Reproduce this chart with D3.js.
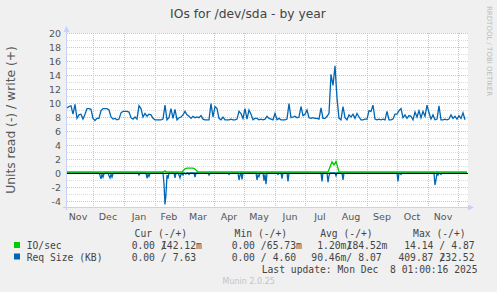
<!DOCTYPE html>
<html><head><meta charset="utf-8">
<script src="https://cdn.jsdelivr.net/npm/d3@7"></script>
<style>html,body{margin:0;padding:0;background:#f0f0f0}svg{display:block}</style>
</head><body>
<svg id="chart" width="497" height="292"></svg>
<script>
// ---------------- data ----------------
const chartTitle = "IOs for /dev/sda - by year";
const yAxisTitle = "Units read (-) / write (+)";
const watermark = "RRDTOOL / TOBI OETIKER";
const startDate = new Date(2024, 10, 5);
const endDate = new Date(2025, 11, 11);
const yTickValues = [-4, -2, 0, 2, 4, 6, 8, 10, 12, 14, 16, 18, 20];
const monthLabels = ["Nov","Dec","Jan","Feb","Mar","Apr","May","Jun","Jul","Aug","Sep","Oct","Nov"];
const monthLabelDates = ["2024-11-16","2024-12-16","2025-01-16","2025-02-15","2025-03-16","2025-04-16","2025-05-16","2025-06-16","2025-07-16","2025-08-16","2025-09-16","2025-10-16","2025-11-16"];

// Req Size (KB) write (+), one value every 2 days from startDate
const reqSizeWrite = [9.3,9.5,9.6,8.4,9.8,7.8,8.3,8.4,7.7,8.4,
 9.2,9.2,9.1,7.8,7.5,7.8,7.8,8.9,9.2,9.2,
 9.2,9.0,8.0,7.7,7.8,7.6,7.7,8.6,8.8,8.8,
 8.8,8.7,7.9,7.7,8.0,7.7,9.6,9.2,8.0,8.5,
 8.1,8.4,8.3,7.8,7.6,7.6,7.6,7.6,7.7,9.7,
 7.6,7.9,9.2,7.8,9.1,7.6,7.9,8.0,8.3,8.8,
 8.3,8.1,7.8,8.1,7.9,8.0,7.9,8.2,7.7,7.6,
 7.6,7.6,9.9,8.0,9.5,9.2,7.8,7.6,8.0,7.6,
 7.6,7.6,7.7,7.6,7.6,7.7,8.8,8.5,7.8,9.2,
 7.7,9.0,8.4,7.6,7.8,7.8,7.6,7.7,7.6,7.7,
 8.1,7.8,7.7,7.6,8.5,7.6,7.8,7.6,7.6,7.6,
 7.7,9.9,7.9,8.0,8.1,7.9,8.0,9.5,8.2,8.4,
 9.0,7.9,7.8,7.9,7.8,7.8,7.7,9.3,7.8,7.8,
 8.1,8.5,14.1,12.5,15.3,10.7,7.8,7.6,9.5,7.9,
 7.6,8.3,8.0,8.4,7.8,8.5,8.0,7.6,7.6,7.7,
 7.7,8.9,8.8,9.7,7.7,7.6,7.7,7.6,7.7,7.6,
 8.8,7.6,7.6,7.7,8.4,8.4,8.9,9.2,7.9,8.3,
 7.8,8.2,8.1,7.6,8.7,8.0,8.9,7.9,8.8,8.1,
 9.7,8.6,7.7,8.3,7.6,7.7,9.6,7.6,7.6,7.7,
 7.6,7.7,8.3,7.8,8.1,7.7,8.2,7.8,8.6,7.6];

// Req Size (KB) read (-): day offset from startDate, and value
const reqSizeReadDays = [0,
 32,33,34,35,36,37,38,
 41,42,43,44,45,46,47,
 71,72,73,
 79,80,81,82,83,
 96,97,98,99,100,101,102,
 107,108,109,
 111,112,113,114,115,116,117,
 119,120,121,122,123,
 127,128,129,
 141,142,143,
 161,162,163,
 171,172,173,174,175,176,
 189,190,191,192,193,
 196,197,198,199,200,
 210,211,212,
 214,215,216,
 220,221,222,
 254,255,256,
 260,261,262,263,
 268,269,270,
 275,276,277,
 330,331,332,
 333,334,335,
 367,368,369,370,371,372,374,375,
 400];
const reqSizeReadVals = [0,
 0,-0.3,-0.85,-0.2,-0.6,-0.1,0,
 0,-0.4,-0.7,-0.2,-0.6,-0.1,0,
 0,-0.3,0,
 0,-0.75,-0.2,-0.5,0,
 0,-1.5,-4.5,-3.0,-0.3,-0.8,0,
 0,-0.7,0,
 0,-0.3,-0.7,-0.2,0,-0.3,0,
 -0.15,0,0,-0.2,0,
 0,-0.6,0,
 0,-0.3,0,
 0,-0.2,0,
 0,-1.0,-0.3,0,-0.9,0,
 0,-1.0,-0.3,-0.5,0,
 0,-1.1,-0.2,-1.6,0,
 0,-0.2,0,
 0,-0.8,0,
 0,-1.2,0,
 0,-1.2,0,
 0,-1.3,-0.4,0,
 0,-0.4,0,
 0,-1.0,0,
 0,-1.2,0,
 0,-0.2,0,
 0,-1.7,-1.0,0,-0.3,0,-0.2,0,
 0];

// IO/sec write (+): day offset, value
const ioWriteDays = [0,96,98,99,115,118,120,126,128,131,261,264,265,267,269,270,272,400];
const ioWriteVals = [0.14,0.14,0.3,0.14,0.14,0.6,0.7,0.7,0.55,0.14,0.14,1.2,1.6,1.15,1.65,1.2,0.14,0.14];
// IO/sec read (-): day offset, value
const ioReadDays = [0,400];
const ioReadVals = [0,0];

// legend
const legendHeaders = ["Cur (-/+)","Min (-/+)","Avg (-/+)","Max (-/+)"];
const legendNames = ["IO/sec","Req Size (KB)"];
const legendColors = ["#00cc00","#0066b3"];
const legendLeft = [["  0.00 /","  0.00 /","  1.20m/"," 14.14 /"],["  0.00 /","  0.00 /"," 90.46m/","409.87 /"]];
const legendRight = [["142.12m"," 65.73m","184.52m","  4.87"],["  7.63","  4.60","  8.07","232.52"]];
const lastUpdate = "Last update: Mon Dec  8 01:00:16 2025";
const muninVersion = "Munin 2.0.25";

// ---------------- drawing ----------------
const svg = d3.select("#chart");
const W = 497, H = 292;
const plot = {left: 67, right: 468, top: 33, bottom: 207};
const x = d3.scaleTime().domain([startDate, endDate]).range([plot.left, plot.right]);
const y = d3.scaleLinear().domain([-4.857, 20]).range([plot.bottom, plot.top]);
const SANS = "'DejaVu Sans', sans-serif";
const MONO = "'DejaVu Sans Mono', monospace";
const crisp = v => Math.round(v) + 0.5;

svg.append("rect").attr("width", W).attr("height", H).attr("fill", "#f0f0f0");
svg.append("rect").attr("x", plot.left).attr("y", plot.top)
  .attr("width", plot.right - plot.left).attr("height", plot.bottom - plot.top).attr("fill", "#ffffff");

// minor horizontal grid (every unit)
const minorY = d3.range(-4, 21, 1).filter(v => v % 2 !== 0);
svg.append("g").selectAll("line").data(minorY).join("line")
  .attr("x1", plot.left).attr("x2", plot.right)
  .attr("y1", d => crisp(y(d))).attr("y2", d => crisp(y(d)))
  .attr("stroke", "#dcdcdc").attr("stroke-dasharray", "1,1");
// major horizontal grid
svg.append("g").selectAll("line").data(yTickValues).join("line")
  .attr("x1", plot.left).attr("x2", plot.right)
  .attr("y1", d => crisp(y(d))).attr("y2", d => crisp(y(d)))
  .attr("stroke", "#f2b4b4").attr("stroke-dasharray", "1,1");
// vertical month grid
const monthStarts = d3.timeMonth.range(d3.timeMonth.ceil(startDate), endDate);
svg.append("g").selectAll("line").data(monthStarts).join("line")
  .attr("x1", d => crisp(x(d))).attr("x2", d => crisp(x(d)))
  .attr("y1", plot.top).attr("y2", plot.bottom)
  .attr("stroke", "#f2b4b4").attr("stroke-dasharray", "1,1");

// y tick labels
svg.append("g").selectAll("text").data(yTickValues).join("text")
  .attr("x", 61).attr("y", d => y(d) + 3.5).attr("text-anchor", "end")
  .attr("font-family", SANS).attr("font-size", 9.5).attr("fill", "#555")
  .text(d => d);
// month labels
const parse = d3.timeParse("%Y-%m-%d");
svg.append("g").selectAll("text").data(monthLabels).join("text")
  .attr("x", (d, i) => x(parse(monthLabelDates[i]))).attr("y", 220).attr("text-anchor", "middle")
  .attr("font-family", SANS).attr("font-size", 9.5).attr("fill", "#555")
  .text(d => d);

// series
const dayDate = d => d3.timeDay.offset(startDate, d);
const line = d3.line().x(d => x(d[0])).y(d => y(d[1]));
const writeSizePts = reqSizeWrite.map((v, i) => [dayDate(i * 2), v]);
const readSizePts = reqSizeReadDays.map((d, i) => [dayDate(d), reqSizeReadVals[i]]);
const ioWritePts = ioWriteDays.map((d, i) => [dayDate(d), ioWriteVals[i]]);
const ioReadPts = ioReadDays.map((d, i) => [dayDate(d), ioReadVals[i]]);

svg.append("path").datum(ioReadPts).attr("d", line).attr("fill", "none").attr("stroke", legendColors[0]).attr("stroke-width", 1.2);
svg.append("path").datum(readSizePts).attr("d", line).attr("fill", "none").attr("stroke", legendColors[1]).attr("stroke-width", 1.3);
svg.append("path").datum(writeSizePts).attr("d", line).attr("fill", "none").attr("stroke", legendColors[1]).attr("stroke-width", 1.3);
svg.append("path").datum(ioWritePts).attr("d", line).attr("fill", "none").attr("stroke", legendColors[0]).attr("stroke-width", 1.3);

// zero line
svg.append("line").attr("x1", plot.left).attr("x2", plot.right)
  .attr("y1", crisp(y(0))).attr("y2", crisp(y(0))).attr("stroke", "#000").attr("stroke-width", 1);

// axes with arrows
const axisColor = "#c8d0f8";
svg.append("line").attr("x1", 66.5).attr("x2", 66.5).attr("y1", plot.bottom + 3).attr("y2", 28).attr("stroke", axisColor);
svg.append("line").attr("x1", 63).attr("x2", 471).attr("y1", 207.5).attr("y2", 207.5).attr("stroke", axisColor);
svg.append("path").attr("d", "M66.5,26 L63.5,32 L69.5,32 Z").attr("fill", axisColor);
svg.append("path").attr("d", "M474,207.5 L468,204.5 L468,210.5 Z").attr("fill", axisColor);

// titles
svg.append("text").attr("x", 248).attr("y", 18).attr("text-anchor", "middle")
  .attr("font-family", SANS).attr("font-size", 12.3).attr("fill", "#444").text(chartTitle);
svg.append("text").attr("transform", "translate(15,120) rotate(-90)").attr("text-anchor", "middle")
  .attr("font-family", SANS).attr("font-size", 12.3).attr("fill", "#555").text(yAxisTitle);
svg.append("text").attr("transform", "translate(487,6) rotate(90)").attr("text-anchor", "start")
  .attr("font-family", SANS).attr("font-size", 7).attr("fill", "#bbb").text(watermark);

// legend
const colSlot0 = [119.9, 219.9, 305.5, 398.4];
const CW = 5.87;
const legend = svg.append("g").attr("font-family", MONO).attr("font-size", 9.7).attr("fill", "#444");
legend.selectAll("text.hdr").data(legendHeaders).join("text").attr("class", "hdr")
  .attr("x", (d, i) => colSlot0[i] + 2.5 * CW).attr("y", 237).text(d => d);
legendNames.forEach((name, r) => {
  const by = 249 + r * 11.5;
  legend.append("rect").attr("x", 14).attr("y", by - 7).attr("width", 6).attr("height", 6).attr("fill", legendColors[r]);
  legend.append("text").attr("x", 26.7).attr("y", by).text(name);
  colSlot0.forEach((cx, c) => {
    const left = legendLeft[r][c];
    const lead = left.length - left.trimStart().length;
    legend.append("text").attr("x", cx + lead * CW).attr("y", by).text(left.trim());
    const right = legendRight[r][c];
    const rlead = right.length - right.trimStart().length;
    legend.append("text").attr("x", cx + (7 + rlead) * CW).attr("y", by).text(right.trim());
  });
});
legend.append("text").attr("x", 261.7).attr("y", 272.5).attr("xml:space", "preserve").text(lastUpdate);
svg.append("text").attr("x", 222.5).attr("y", 284).attr("font-family", SANS).attr("font-size", 8)
  .attr("fill", "#c4c4c4").text(muninVersion);
</script>
</body></html>
